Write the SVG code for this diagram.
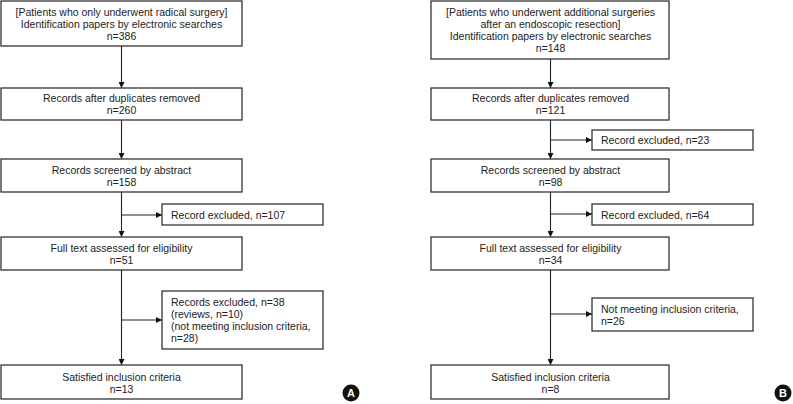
<svg xmlns="http://www.w3.org/2000/svg" width="793" height="404" viewBox="0 0 793 404">
<style>
.box{fill:#fff;stroke:#333;stroke-width:1.3}
.t{font-family:"Liberation Sans",Arial,sans-serif;font-size:10.5px;fill:#222}
.c{text-anchor:middle}
.ln{stroke:#222;stroke-width:1.1;fill:none}
.lbl{font-family:"Liberation Sans",Arial,sans-serif;font-size:11px;font-weight:bold;fill:#fff;text-anchor:middle}
</style>
<defs>
<marker id="ah" viewBox="0 0 6 6" refX="6" refY="3" markerWidth="6" markerHeight="6" markerUnits="userSpaceOnUse" orient="auto">
<path d="M0,0 L6,3 L0,6 Z" fill="#111"/>
</marker>
</defs>
<rect width="793" height="404" fill="#fff"/>
<g id="connectors">
<line class="ln" x1="121.5" y1="46" x2="121.5" y2="88" marker-end="url(#ah)"/>
<line class="ln" x1="121.5" y1="120" x2="121.5" y2="159" marker-end="url(#ah)"/>
<line class="ln" x1="121.5" y1="192" x2="121.5" y2="237" marker-end="url(#ah)"/>
<line class="ln" x1="121.5" y1="215" x2="162" y2="215" marker-end="url(#ah)"/>
<line class="ln" x1="121.5" y1="270" x2="121.5" y2="365" marker-end="url(#ah)"/>
<line class="ln" x1="121.5" y1="320" x2="162" y2="320" marker-end="url(#ah)"/>
<line class="ln" x1="550.5" y1="59" x2="550.5" y2="88" marker-end="url(#ah)"/>
<line class="ln" x1="550.5" y1="120" x2="550.5" y2="159" marker-end="url(#ah)"/>
<line class="ln" x1="550.5" y1="140" x2="592" y2="140" marker-end="url(#ah)"/>
<line class="ln" x1="550.5" y1="192" x2="550.5" y2="237" marker-end="url(#ah)"/>
<line class="ln" x1="550.5" y1="214" x2="592" y2="214" marker-end="url(#ah)"/>
<line class="ln" x1="550.5" y1="270" x2="550.5" y2="365" marker-end="url(#ah)"/>
<line class="ln" x1="550.5" y1="314" x2="592" y2="314" marker-end="url(#ah)"/>
</g>
<g id="a1"><rect class="box" x="1" y="1" width="241" height="45"/>
<text class="t c" x="121.5" y="16">[Patients who only underwent radical surgery]</text>
<text class="t c" x="121.5" y="28">Identification papers by electronic searches</text>
<text class="t c" x="121.5" y="40">n=386</text></g>
<g id="a2"><rect class="box" x="1" y="88" width="241" height="32"/>
<text class="t c" x="121.5" y="102">Records after duplicates removed</text>
<text class="t c" x="121.5" y="114">n=260</text></g>
<g id="a3"><rect class="box" x="1" y="159" width="241" height="33"/>
<text class="t c" x="121.5" y="174">Records screened by abstract</text>
<text class="t c" x="121.5" y="186">n=158</text></g>
<g id="a3x"><rect class="box" x="162" y="204" width="161" height="21"/>
<text class="t" x="171" y="219">Record excluded, n=107</text></g>
<g id="a4"><rect class="box" x="1" y="237" width="241" height="33"/>
<text class="t c" x="121.5" y="252">Full text assessed for eligibility</text>
<text class="t c" x="121.5" y="264">n=51</text></g>
<g id="a4x"><rect class="box" x="162" y="291" width="161" height="58"/>
<text class="t" x="171" y="306">Records excluded, n=38</text>
<text class="t" x="171" y="318">(reviews, n=10)</text>
<text class="t" x="171" y="330">(not meeting inclusion criteria,</text>
<text class="t" x="171" y="342">n=28)</text></g>
<g id="a5"><rect class="box" x="1" y="365" width="241" height="34"/>
<text class="t c" x="121.5" y="381">Satisfied inclusion criteria</text>
<text class="t c" x="121.5" y="393">n=13</text></g>
<g id="labelA"><circle cx="351" cy="393" r="8.5" fill="#111"/><text class="lbl" x="351" y="397">A</text></g>
<g id="b1"><rect class="box" x="431" y="1" width="238" height="58"/>
<text class="t c" x="550.5" y="16">[Patients who underwent additional surgeries</text>
<text class="t c" x="550.5" y="28">after an endoscopic resection]</text>
<text class="t c" x="550.5" y="40">Identification papers by electronic searches</text>
<text class="t c" x="550.5" y="52">n=148</text></g>
<g id="b2"><rect class="box" x="431" y="88" width="238" height="32"/>
<text class="t c" x="550.5" y="102">Records after duplicates removed</text>
<text class="t c" x="550.5" y="114">n=121</text></g>
<g id="b2x"><rect class="box" x="592" y="130" width="161" height="20"/>
<text class="t" x="601" y="144">Record excluded, n=23</text></g>
<g id="b3"><rect class="box" x="431" y="159" width="238" height="33"/>
<text class="t c" x="550.5" y="174">Records screened by abstract</text>
<text class="t c" x="550.5" y="186">n=98</text></g>
<g id="b3x"><rect class="box" x="592" y="204" width="161" height="21"/>
<text class="t" x="601" y="219">Record excluded, n=64</text></g>
<g id="b4"><rect class="box" x="431" y="237" width="238" height="33"/>
<text class="t c" x="550.5" y="252">Full text assessed for eligibility</text>
<text class="t c" x="550.5" y="264">n=34</text></g>
<g id="b4x"><rect class="box" x="592" y="298" width="161" height="33"/>
<text class="t" x="601" y="313">Not meeting inclusion criteria,</text>
<text class="t" x="601" y="325">n=26</text></g>
<g id="b5"><rect class="box" x="431" y="365" width="238" height="34"/>
<text class="t c" x="550.5" y="381">Satisfied inclusion criteria</text>
<text class="t c" x="550.5" y="393">n=8</text></g>
<g id="labelB"><circle cx="783" cy="393" r="8.5" fill="#111"/><text class="lbl" x="783" y="397">B</text></g>
</svg>
